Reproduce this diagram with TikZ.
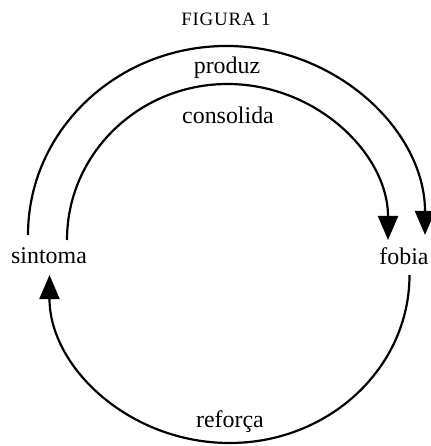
\documentclass[tikz,border=0pt]{standalone}
\usepackage{fontspec}
\setmainfont{Liberation Serif}
\newfontfamily\titlefont[LetterSpace=4]{Liberation Serif}
\usetikzlibrary{arrows.meta,calc}

\begin{document}
\begin{tikzpicture}[x=0.5bp,y=-0.5bp,
  font=\fontsize{12}{14}\selectfont,
  tip/.style={-{Triangle[length=12bp,width=10bp]},line width=1.1pt},
  lbl/.style={inner sep=1pt}]
\useasboundingbox (0,0) rectangle (431,446);
% title
\node[font=\titlefont\fontsize{9.5}{11}\selectfont] (fig) at (226,19) {FIGURA 1};
% the two terms
\node[lbl] (sint) at (49,256) {sintoma};
\node[lbl] (fob) at (404,256) {fobia};
% outer arc: sintoma produz fobia
\draw[tip] ($(sint)+(-21,-21)$) arc[start angle=180,end angle=0,x radius=99.25bp,y radius=94.5bp];
\node[lbl] (prod) at (227,68) {produz};
% inner arc: sintoma consolida fobia
\draw[tip] ($(sint)+(18,-16)$) arc[start angle=180,end angle=0,x radius=80.25bp,y radius=78bp];
\node[lbl] (cons) at (228,115) {consolida};
% lower arc: fobia reforça sintoma
\draw[tip] ($(fob)+(5.5,19)$) arc[start angle=0,end angle=-180,x radius=90bp,y radius=84bp];
\node[lbl] (ref) at (230,422) {reforça};
\end{tikzpicture}
\end{document}
